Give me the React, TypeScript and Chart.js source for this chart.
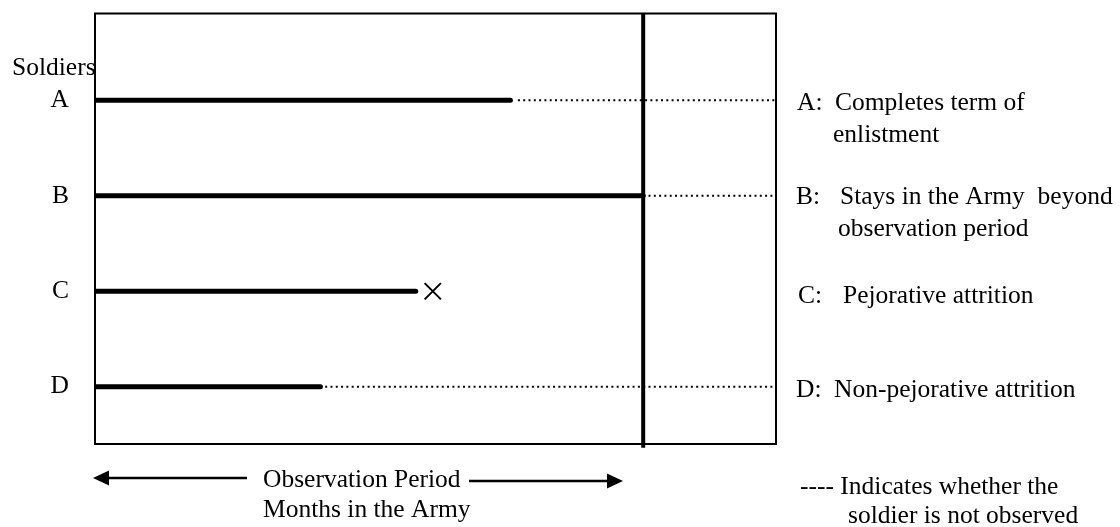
import React, { useEffect, useRef } from "react";
import { Chart, registerables } from "chart.js";

Chart.register(...registerables);

// ---- data ----
const soldiers = ["A", "B", "C", "D"];
const soldierRows = [1, 2, 3, 4];
// x is measured as % of the drawn time axis (left frame = 0, right frame = 100)
const observedEnd = [61.0, 80.5, 47.1, 33.1];
const unobservedStart: (number | null)[] = [62.1, 80.5, null, 33.8];
const attritionMark: (number | null)[] = [null, null, 49.6, null];
const observationEnd = 80.5;
const xMin = 0;
const xMax = 100;
const yMin = 0.09;
const yMax = 4.6;
const observationLineBottom = 4.64;

const outcomeKeys = ["A:", "B:", "C:", "D:"];
const outcomeText = [
  ["Completes term of", "enlistment"],
  ["Stays in the Army  beyond", "observation period"],
  ["Pejorative attrition"],
  ["Non-pejorative attrition"],
];
const axisTitle = "Soldiers";
const xTitle1 = "Observation Period";
const xTitle2 = "Months in the Army";
const note1 = "---- Indicates whether the";
const note2 = "soldier is not observed";

const FONT = '25.5px "Liberation Serif", "Times New Roman", serif';

const annotations = {
  id: "annotations",
  afterDraw(chart: any) {
    const { ctx, chartArea } = chart;
    ctx.save();
    // frame
    ctx.strokeStyle = "#000";
    ctx.lineWidth = 2;
    ctx.strokeRect(chartArea.left, chartArea.top, chartArea.right - chartArea.left, chartArea.bottom - chartArea.top);

    ctx.fillStyle = "#000";
    ctx.font = FONT;
    ctx.textBaseline = "middle";
    ctx.textAlign = "left";
    ctx.fillText(axisTitle, 12, 68);

    // right-hand legend
    const keyX = [797, 796, 798, 796];
    const txtX = [835, 840, 843, 834];
    const txt2X = [833, 838];
    const rowY = [103, 197, 296, 390];
    outcomeKeys.forEach((k, i) => {
      ctx.fillText(k, keyX[i], rowY[i]);
      ctx.fillText(outcomeText[i][0], txtX[i], rowY[i]);
      if (outcomeText[i][1]) ctx.fillText(outcomeText[i][1], txt2X[i], rowY[i] + 32);
    });
    ctx.fillText(note1, 800, 487);
    ctx.fillText(note2, 848, 516);

    // bottom titles
    ctx.fillText(xTitle1, 263, 480);
    ctx.fillText(xTitle2, 263, 510);

    // arrows
    const arrow = (x1: number, x2: number, y: number) => {
      const dir = Math.sign(x2 - x1);
      const head = 16;
      ctx.lineWidth = 2.5;
      ctx.beginPath();
      ctx.moveTo(x1, y);
      ctx.lineTo(x2 - dir * head + dir * 2, y);
      ctx.stroke();
      ctx.beginPath();
      ctx.moveTo(x2, y);
      ctx.lineTo(x2 - dir * head, y - 7.5);
      ctx.lineTo(x2 - dir * head, y + 7.5);
      ctx.closePath();
      ctx.fill();
    };
    arrow(247, 93, 478);
    arrow(469, 623, 481);
    ctx.restore();
  },
};

export default function App() {
  const ref = useRef<HTMLCanvasElement | null>(null);

  useEffect(() => {
    if (!ref.current) return;
    const datasets: any[] = [];
    soldierRows.forEach((row, i) => {
      datasets.push({
        label: soldiers[i] + " observed",
        data: [
          { x: xMin, y: row },
          { x: observedEnd[i], y: row },
        ],
        borderColor: "#000",
        borderWidth: 5,
        borderCapStyle: "round",
        pointRadius: 0,
        tension: 0,
      });
      if (unobservedStart[i] !== null) {
        datasets.push({
          label: soldiers[i] + " not observed",
          data: [
            { x: unobservedStart[i], y: row },
            { x: xMax, y: row },
          ],
          borderColor: "#000",
          borderWidth: 2,
          borderDash: [2, 3.3],
          pointRadius: 0,
          tension: 0,
        });
      }
      if (attritionMark[i] !== null) {
        datasets.push({
          label: soldiers[i] + " attrition",
          data: [{ x: attritionMark[i], y: row }],
          showLine: false,
          pointStyle: "crossRot",
          pointRadius: 11.5,
          pointBorderWidth: 2,
          pointBorderColor: "#000",
          pointBackgroundColor: "#000",
        });
      }
    });
    datasets.push({
      label: "End of observation",
      data: [
        { x: observationEnd, y: yMin },
        { x: observationEnd, y: observationLineBottom },
      ],
      borderColor: "#000",
      borderWidth: 4,
      pointRadius: 0,
      clip: false,
    });

    const chart = new Chart(ref.current, {
      type: "line",
      data: { datasets },
      options: {
        animation: false,
        responsive: false,
        events: [],
        layout: { padding: { left: 0, top: 13, right: 344, bottom: 83 } },
        plugins: { legend: { display: false }, tooltip: { enabled: false } },
        scales: {
          x: { type: "linear", min: xMin, max: xMax, display: false },
          y: {
            type: "linear",
            min: yMin,
            max: yMax,
            reverse: true,
            afterBuildTicks: (s: any) => {
              s.ticks = soldierRows.map((v) => ({ value: v }));
            },
            afterFit: (s: any) => {
              s.width = 95;
              s.paddingTop = 0;
              s.paddingBottom = 0;
            },
            ticks: {
              callback: (v: any) => soldiers[soldierRows.indexOf(Number(v))] ?? "",
              font: { family: '"Liberation Serif", "Times New Roman", serif', size: 25.5 },
              color: "#000",
              padding: 26,
              autoSkip: false,
            },
            grid: { display: false, drawTicks: false },
            border: { display: false },
          },
        },
      },
      plugins: [annotations],
    } as any);
    return () => chart.destroy();
  }, []);

  return (
    <div style={{ position: "fixed", left: 0, top: 0, width: 1120, height: 527, background: "#fff" }}>
      <canvas ref={ref} width={1120} height={527} style={{ display: "block" }} />
    </div>
  );
}
